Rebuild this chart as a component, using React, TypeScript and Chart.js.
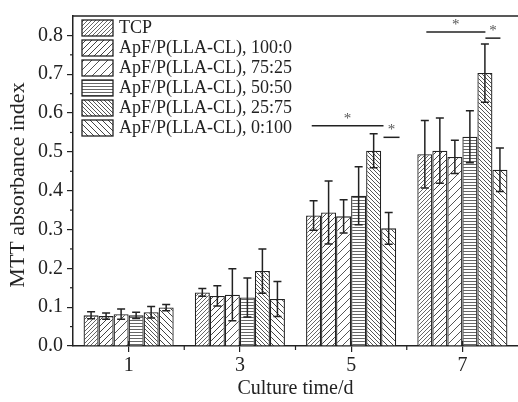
import React, { useEffect, useRef } from 'react';
import { Chart, registerables } from 'chart.js';

Chart.register(...registerables);

const categories = ['1', '3', '5', '7'];
const seriesNames = [
  'TCP',
  'ApF/P(LLA-CL), 100:0',
  'ApF/P(LLA-CL), 75:25',
  'ApF/P(LLA-CL), 50:50',
  'ApF/P(LLA-CL), 25:75',
  'ApF/P(LLA-CL), 0:100',
];
const tcp = [0.079, 0.138, 0.336, 0.494];
const r100_0 = [0.077, 0.129, 0.344, 0.503];
const r75_25 = [0.082, 0.132, 0.334, 0.487];
const r50_50 = [0.079, 0.125, 0.387, 0.539];
const r25_75 = [0.087, 0.193, 0.503, 0.703];
const r0_100 = [0.099, 0.121, 0.303, 0.454];
const tcpErr = [0.009, 0.010, 0.038, 0.087];
const r100_0Err = [0.008, 0.026, 0.081, 0.084];
const r75_25Err = [0.013, 0.067, 0.043, 0.043];
const r50_50Err = [0.008, 0.050, 0.075, 0.067];
const r25_75Err = [0.015, 0.057, 0.044, 0.075];
const r0_100Err = [0.008, 0.045, 0.041, 0.056];
const yTicks = [0, 0.1, 0.2, 0.3, 0.4, 0.5, 0.6, 0.7, 0.8];
const yMinorTicks = [0.05, 0.15, 0.25, 0.35, 0.45, 0.55, 0.65, 0.75];
const xTitle = 'Culture time/d';
const yTitle = 'MTT absorbance index';

// significance brackets: category index, from/to offsets (in category units), level
const sigCategory = [2, 2, 3, 3];
const sigFrom = [-0.354, 0.291, -0.324, 0.207];
const sigTo = [0.291, 0.435, 0.207, 0.342];
const sigLevel = [0.5675, 0.5375, 0.809, 0.793];
const sigLabel = ['*', '*', '*', '*'];

const seriesValues = [tcp, r100_0, r75_25, r50_50, r25_75, r0_100];
const seriesErrors = [tcpErr, r100_0Err, r75_25Err, r50_50Err, r25_75Err, r0_100Err];

const INK = '#222';
const FONT = 'Liberation Serif, Times New Roman, serif';

type HatchKind = 'slash' | 'back' | 'horiz';
const hatchSpecs: { kind: HatchKind; size: number; color: string; width: number }[] = [
  { kind: 'slash', size: 4, color: '#666', width: 1 },
  { kind: 'slash', size: 6, color: '#444', width: 1 },
  { kind: 'slash', size: 8, color: '#555', width: 1 },
  { kind: 'horiz', size: 3, color: '#666', width: 1 },
  { kind: 'back', size: 4, color: '#555', width: 1 },
  { kind: 'back', size: 6, color: '#444', width: 1 },
];

function makePattern(spec: { kind: HatchKind; size: number; color: string; width: number }): CanvasPattern | string {
  const s = spec.size;
  const c = document.createElement('canvas');
  c.width = s;
  c.height = s;
  const g = c.getContext('2d');
  if (!g) return '#fff';
  g.fillStyle = '#fff';
  g.fillRect(0, 0, s, s);
  g.strokeStyle = spec.color;
  g.lineWidth = spec.width;
  g.beginPath();
  if (spec.kind === 'horiz') {
    g.moveTo(0, s - 0.5);
    g.lineTo(s, s - 0.5);
  } else if (spec.kind === 'slash') {
    g.moveTo(-1, s + 1);
    g.lineTo(s + 1, -1);
    g.moveTo(-1, 1);
    g.lineTo(1, -1);
    g.moveTo(s - 1, s + 1);
    g.lineTo(s + 1, s - 1);
  } else {
    g.moveTo(-1, -1);
    g.lineTo(s + 1, s + 1);
    g.moveTo(s - 1, -1);
    g.lineTo(s + 1, 1);
    g.moveTo(-1, s - 1);
    g.lineTo(1, s + 1);
  }
  g.stroke();
  const p = g.createPattern(c, 'repeat');
  return p || '#fff';
}

export default function App() {
  const ref = useRef<HTMLCanvasElement | null>(null);

  useEffect(() => {
    if (!ref.current) return;
    const patterns = hatchSpecs.map(makePattern);

    const extras = {
      id: 'extras',
      afterDatasetsDraw(chart: any) {
        const ctx = chart.ctx;
        const x = chart.scales.x;
        const y = chart.scales.y;
        const area = chart.chartArea;
        ctx.save();
        // error bars
        ctx.strokeStyle = INK;
        ctx.lineWidth = 1.5;
        seriesValues.forEach((vals, i) => {
          const meta = chart.getDatasetMeta(i);
          vals.forEach((v, j) => {
            const el = meta.data[j];
            if (!el) return;
            const e = seriesErrors[i][j];
            const yt = y.getPixelForValue(v + e);
            const yb = y.getPixelForValue(v - e);
            const cx = el.x;
            ctx.beginPath();
            ctx.moveTo(cx, yt);
            ctx.lineTo(cx, yb);
            ctx.moveTo(cx - 4, yt);
            ctx.lineTo(cx + 4, yt);
            ctx.moveTo(cx - 4, yb);
            ctx.lineTo(cx + 4, yb);
            ctx.stroke();
          });
        });
        // significance brackets
        ctx.lineWidth = 1.5;
        ctx.fillStyle = '#555';
        ctx.font = `15px ${FONT}`;
        ctx.textAlign = 'center';
        ctx.textBaseline = 'middle';
        sigCategory.forEach((c, k) => {
          const x0 = x.getPixelForValue(c + sigFrom[k]);
          const x1 = x.getPixelForValue(c + sigTo[k]);
          const yy = y.getPixelForValue(sigLevel[k]);
          ctx.beginPath();
          ctx.moveTo(x0, yy);
          ctx.lineTo(x1, yy);
          ctx.stroke();
          ctx.fillText(sigLabel[k], (x0 + x1) / 2, yy - 7);
        });
        // frame top line
        ctx.strokeStyle = INK;
        ctx.lineWidth = 1.5;
        ctx.beginPath();
        ctx.moveTo(area.left, area.top);
        ctx.lineTo(area.right, area.top);
        ctx.stroke();
        // y minor ticks
        ctx.lineWidth = 1.2;
        yMinorTicks.forEach((v) => {
          const py = y.getPixelForValue(v);
          ctx.beginPath();
          ctx.moveTo(area.left - 3, py);
          ctx.lineTo(area.left, py);
          ctx.stroke();
        });
        // x major ticks crossing upward, minor ticks at category boundaries
        categories.forEach((_, j) => {
          const px = x.getPixelForValue(j);
          ctx.beginPath();
          ctx.moveTo(px, area.bottom - 5);
          ctx.lineTo(px, area.bottom);
          ctx.stroke();
          if (j > 0) {
            const pb = x.getPixelForValue(j - 0.5);
            ctx.beginPath();
            ctx.moveTo(pb, area.bottom);
            ctx.lineTo(pb, area.bottom + 4);
            ctx.stroke();
          }
        });
        // y axis title
        ctx.save();
        ctx.translate(18, 185);
        ctx.rotate(-Math.PI / 2);
        ctx.font = `22px ${FONT}`;
        ctx.fillStyle = INK;
        ctx.textAlign = 'center';
        ctx.textBaseline = 'middle';
        ctx.fillText(yTitle, 0, 0);
        ctx.restore();
        // legend
        ctx.font = `18px ${FONT}`;
        ctx.textAlign = 'left';
        ctx.textBaseline = 'middle';
        seriesNames.forEach((name, i) => {
          const top = area.top + 4 + i * 20;
          ctx.fillStyle = patterns[i] as any;
          ctx.fillRect(82, top, 31, 16);
          ctx.strokeStyle = INK;
          ctx.lineWidth = 1.3;
          ctx.strokeRect(82, top, 31, 16);
          ctx.fillStyle = INK;
          ctx.fillText(name, 119, top + 8.5);
        });
        ctx.restore();
      },
    };

    const chart = new Chart(ref.current, {
      type: 'bar',
      data: {
        labels: categories,
        datasets: seriesValues.map((vals, i) => ({
          label: seriesNames[i],
          data: vals,
          backgroundColor: patterns[i] as any,
          borderColor: INK,
          borderWidth: 1.3,
          barPercentage: 1,
          categoryPercentage: 0.81,
        })),
      },
      options: {
        animation: false,
        responsive: true,
        maintainAspectRatio: false,
        layout: { padding: { top: 15, right: 0, left: 0, bottom: 0 } },
        plugins: { legend: { display: false }, tooltip: { enabled: false } },
        scales: {
          x: {
            type: 'category',
            offset: true,
            grid: { display: true, offset: false, drawOnChartArea: false, tickLength: 6, color: INK, lineWidth: 1.2 },
            border: { display: true, color: INK, width: 1.5 },
            ticks: { font: { family: FONT, size: 20 }, color: INK, padding: 2 },
            title: {
              display: true,
              text: xTitle,
              font: { family: FONT, size: 20 },
              color: INK,
              padding: { top: 0, bottom: 1 },
            },
            afterFit: (s: any) => {
              s.height = 56;
            },
          },
          y: {
            min: 0,
            max: 0.85,
            afterBuildTicks: (s: any) => {
              s.ticks = yTicks.map((v) => ({ value: v }));
            },
            grid: { display: true, drawOnChartArea: false, tickLength: 6, color: INK, lineWidth: 1.2 },
            border: { display: true, color: INK, width: 1.5 },
            ticks: {
              font: { family: FONT, size: 20 },
              color: INK,
              padding: 4,
              callback: (v: any) => Number(v).toFixed(1),
            },
            title: { display: false, text: yTitle },
            afterFit: (s: any) => {
              s.width = 73;
            },
          },
        },
      },
      plugins: [extras],
    });
    return () => chart.destroy();
  }, []);

  return (
    <div style={{ position: 'fixed', left: 0, top: 0, width: 518, height: 402, background: '#fff' }}>
      <canvas ref={ref} />
    </div>
  );
}
